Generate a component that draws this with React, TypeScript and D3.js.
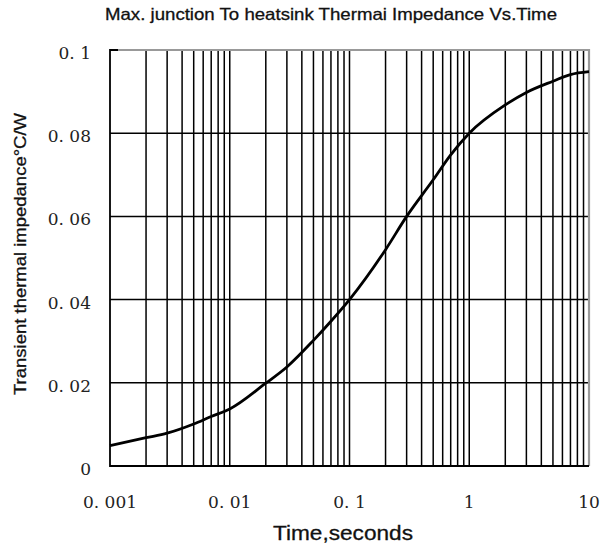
import React, { useEffect, useRef } from 'react'
import * as d3 from 'd3'

// readings
const times = [0.001, 0.002, 0.003, 0.005, 0.007, 0.01, 0.02, 0.03, 0.05, 0.07, 0.1, 0.2, 0.3, 0.5, 0.7, 1, 2, 3, 5, 7, 10]
const impedance = [0.0049, 0.0068, 0.0079, 0.0101, 0.0119, 0.0137, 0.0199, 0.0238, 0.0302, 0.0348, 0.04, 0.052, 0.06, 0.0688, 0.0748, 0.08, 0.0868, 0.0898, 0.0925, 0.0941, 0.0948]
const yTicks = [0, 0.02, 0.04, 0.06, 0.08, 0.1]
const yTickLabels = ['0', '0. 02', '0. 04', '0. 06', '0. 08', '0. 1']
const xTicks = [0.001, 0.01, 0.1, 1, 10]
const xTickLabels = ['0. 001', '0. 01', '0. 1', '1', '10']

const title = 'Max. junction To heatsink Thermai Impedance Vs.Time'
const xTitle = 'Time,seconds'
const yTitle = 'Transient thermal impedance°C/W'

export default function App() {
  const ref = useRef<SVGSVGElement | null>(null)

  useEffect(() => {
    if (!ref.current) return
    const width = 613
    const height = 549
    const left = 110
    const right = 589
    const top = 50
    const bottom = 466

    const x = d3.scaleLog().domain([0.001, 10]).range([left, right])
    const y = d3.scaleLinear().domain([0, 0.1]).range([bottom, top])

    const svg = d3
      .select(ref.current)
      .attr('width', width)
      .attr('height', height)
      .attr('style', 'position:absolute;left:0;top:0;background:#fff')

    // vertical grid: 1..9 per decade
    const minor: number[] = []
    for (let e = -3; e < 1; e++) {
      for (let m = 1; m < 10; m++) minor.push(m * Math.pow(10, e))
    }
    svg
      .append('g')
      .selectAll('line')
      .data(minor.filter((v) => v > 0.001))
      .join('line')
      .attr('x1', (d) => x(d))
      .attr('x2', (d) => x(d))
      .attr('y1', top)
      .attr('y2', bottom)
      .attr('stroke', '#000')
      .attr('stroke-width', 1.5)

    svg
      .append('g')
      .selectAll('line')
      .data(yTicks.filter((v) => v > 0 && v < 0.1))
      .join('line')
      .attr('x1', left)
      .attr('x2', right)
      .attr('y1', (d) => y(d))
      .attr('y2', (d) => y(d))
      .attr('stroke', '#000')
      .attr('stroke-width', 1.5)

    // frame: grey top/right, black left/bottom
    svg
      .append('path')
      .attr('d', `M${left},${y(0.1)}H${right}V${bottom}`)
      .attr('fill', 'none')
      .attr('stroke', '#999')
      .attr('stroke-width', 2.2)
    svg
      .append('path')
      .attr('d', `M${left + 8},${y(0.1)}H${left}V${bottom}H${right}`)
      .attr('fill', 'none')
      .attr('stroke', '#000')
      .attr('stroke-width', 1.8)

    const line = d3
      .line<number>()
      .x((_d, i) => x(times[i]))
      .y((d) => y(d))
      .curve(d3.curveMonotoneX)

    svg
      .append('path')
      .attr('d', line(impedance))
      .attr('fill', 'none')
      .attr('stroke', '#000')
      .attr('stroke-width', 2.8)

    const tickFont = '"DejaVu Serif", serif'
    svg
      .append('g')
      .selectAll('text')
      .data(yTicks)
      .join('text')
      .attr('x', 91)
      .attr('y', (d) => y(d) + 9)
      .attr('text-anchor', 'end')
      .attr('font-family', tickFont)
      .attr('font-size', 17)
      .attr('fill', '#222')
      .text((_d, i) => yTickLabels[i])

    svg
      .append('g')
      .selectAll('text')
      .data(xTicks)
      .join('text')
      .attr('x', (d) => x(d))
      .attr('y', 508)
      .attr('text-anchor', 'middle')
      .attr('font-family', tickFont)
      .attr('font-size', 17)
      .attr('fill', '#222')
      .text((_d, i) => xTickLabels[i])

    const sans = '"Liberation Sans", Arial, sans-serif'
    svg
      .append('text')
      .attr('x', 105)
      .attr('y', 20)
      .attr('font-family', sans)
      .attr('font-size', 16.5)
      .attr('textLength', 452)
      .attr('lengthAdjust', 'spacingAndGlyphs')
      .attr('fill', '#111')
      .attr('stroke', '#111')
      .attr('stroke-width', 0.3)
      .text(title)

    svg
      .append('text')
      .attr('x', 273)
      .attr('y', 540)
      .attr('font-family', sans)
      .attr('font-size', 21)
      .attr('textLength', 140)
      .attr('lengthAdjust', 'spacingAndGlyphs')
      .attr('fill', '#111')
      .attr('stroke', '#111')
      .attr('stroke-width', 0.3)
      .text(xTitle)

    svg
      .append('text')
      .attr('transform', 'translate(26,395) rotate(-90)')
      .attr('font-family', sans)
      .attr('font-size', 16)
      .attr('textLength', 282)
      .attr('lengthAdjust', 'spacingAndGlyphs')
      .attr('fill', '#111')
      .attr('stroke', '#111')
      .attr('stroke-width', 0.3)
      .text(yTitle)

    return () => {
      svg.selectAll('*').remove()
    }
  }, [])

  return <svg ref={ref} />
}
